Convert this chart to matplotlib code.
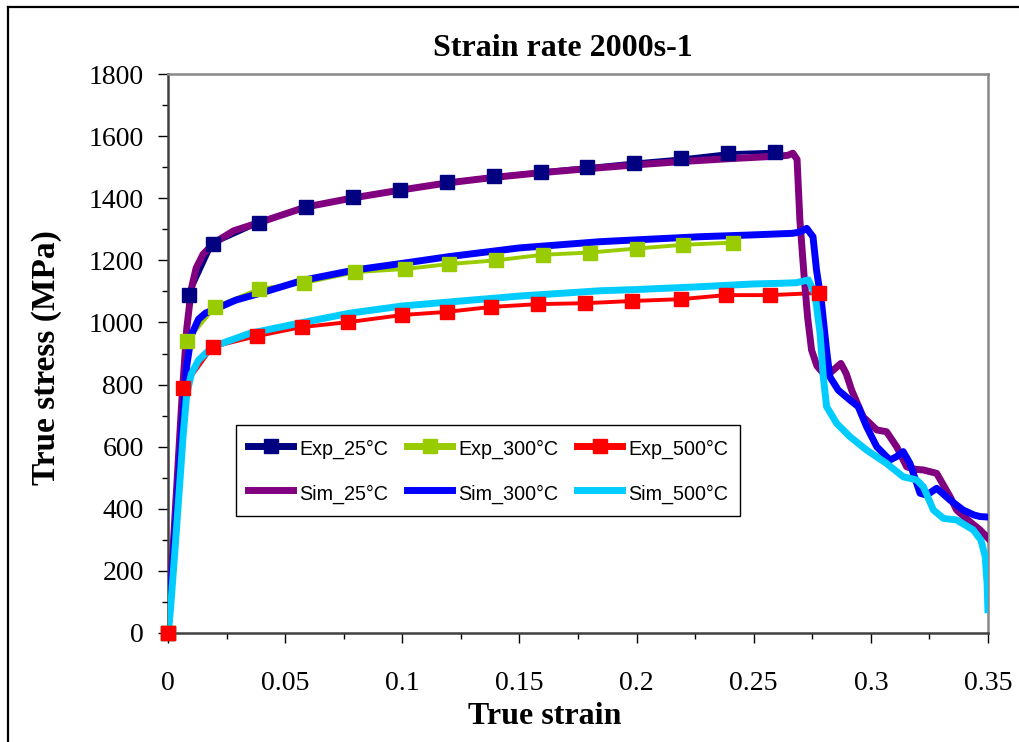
import matplotlib
matplotlib.use("Agg")
import matplotlib.pyplot as plt
from matplotlib.lines import Line2D
import numpy as np

# ---------------- data ----------------
exp25_x = [0, 0.009, 0.019, 0.039, 0.059, 0.079, 0.099, 0.119, 0.139, 0.159, 0.179, 0.199, 0.219, 0.239, 0.259]
exp25_y = [0, 1088, 1252, 1320, 1373, 1403, 1428, 1452, 1470, 1486, 1500, 1515, 1528, 1545, 1550]

exp300_x = [0, 0.008, 0.020, 0.039, 0.058, 0.080, 0.101, 0.120, 0.140, 0.160, 0.180, 0.200, 0.220, 0.241]
exp300_y = [0, 940, 1050, 1108, 1127, 1162, 1172, 1188, 1200, 1218, 1225, 1238, 1250, 1257]

exp500_x = [0, 0.0064, 0.019, 0.038, 0.057, 0.077, 0.100, 0.119, 0.138, 0.158, 0.178, 0.198, 0.219, 0.238, 0.257, 0.278]
exp500_y = [0, 789, 921, 956, 985, 1001, 1024, 1034, 1050, 1059, 1062, 1069, 1075, 1088, 1088, 1095]

sim25_x = [0, 0.003, 0.006, 0.008, 0.010, 0.012, 0.015, 0.020, 0.028, 0.039, 0.059, 0.079, 0.099, 0.119,
           0.139, 0.159, 0.179, 0.199, 0.219, 0.239, 0.259, 0.2645, 0.2667, 0.2685, 0.2697, 0.2715, 0.2730,
           0.2747, 0.2770, 0.2797, 0.2830, 0.2872, 0.2895, 0.2918, 0.2967, 0.3025, 0.3067, 0.3110, 0.3153,
           0.3190, 0.3224, 0.3281, 0.3338, 0.3366, 0.3420, 0.3466, 0.3520]
sim25_y = [0, 380, 760, 980, 1110, 1175, 1220, 1258, 1295, 1322, 1372, 1401, 1426, 1449,
           1467, 1482, 1495, 1507, 1518, 1527, 1535, 1538, 1545, 1525, 1330, 1150, 1017,
           911, 860, 836, 840, 868, 835, 782, 696, 654, 648, 600, 535,
           527, 525, 514, 439, 396, 360, 332, 290]

sim300_x = [0, 0.002, 0.004, 0.006, 0.008, 0.010, 0.013, 0.016, 0.021, 0.029, 0.0393, 0.0577, 0.0798, 0.1016, 0.120,
            0.150, 0.1844, 0.200, 0.227, 0.250, 0.2667, 0.2700, 0.2726, 0.2753, 0.2768, 0.2790, 0.2811,
            0.2825, 0.2861, 0.2911, 0.2946, 0.2982, 0.3025, 0.3081, 0.3110, 0.3138, 0.3167, 0.3210,
            0.3238, 0.3281, 0.3338, 0.3394, 0.3440, 0.3466, 0.3530]
sim300_y = [0, 210, 430, 660, 860, 960, 1010, 1030, 1046, 1072, 1094, 1136, 1169, 1192, 1212,
            1240, 1260, 1266, 1276, 1282, 1287, 1292, 1303, 1276, 1169, 1060, 911,
            825, 782, 750, 729, 664, 600, 557, 568, 584, 546, 450,
            444, 466, 428, 396, 380, 375, 372]

sim500_x = [0, 0.001, 0.003, 0.005, 0.0065, 0.008, 0.010, 0.013, 0.019, 0.035, 0.0563, 0.0777, 0.100, 0.150,
            0.1844, 0.200, 0.227, 0.250, 0.2612, 0.2683, 0.2733, 0.2761, 0.2783, 0.2797, 0.2811, 0.2854,
            0.2911, 0.2982, 0.3067, 0.3138, 0.3195, 0.3224, 0.3267, 0.3310, 0.3366, 0.3437, 0.3470,
            0.3488, 0.3496, 0.3500]
sim500_y = [0, 70, 270, 480, 640, 770, 835, 878, 922, 965, 998, 1030, 1053, 1085,
            1102, 1106, 1115, 1124, 1126, 1128, 1137, 1094, 966, 825, 729, 675,
            632, 589, 546, 503, 493, 471, 396, 369, 364, 332, 299,
            246, 161, 64]

x_ticks = [0, 0.05, 0.1, 0.15, 0.2, 0.25, 0.3, 0.35]
x_tick_labels = ["0", "0.05", "0.1", "0.15", "0.2", "0.25", "0.3", "0.35"]
y_ticks = [0, 200, 400, 600, 800, 1000, 1200, 1400, 1600, 1800]

title = "Strain rate 2000s-1"
xlabel = "True strain"
ylabel = "True stress (MPa)"

exp_series = [("Exp_25°C", exp25_x, exp25_y, "#000080"),
              ("Exp_300°C", exp300_x, exp300_y, "#99CC00"),
              ("Exp_500°C", exp500_x, exp500_y, "#FF0000")]
sim_series = [("Sim_25°C", sim25_x, sim25_y, "#800080"),
              ("Sim_300°C", sim300_x, sim300_y, "#0000FF"),
              ("Sim_500°C", sim500_x, sim500_y, "#00CCFF")]

# ---------------- figure ----------------
W, H = 1020, 742
fig = plt.figure(figsize=(W / 100, H / 100), dpi=100)
ax = fig.add_axes([168 / W, 1 - 633 / H, (988 - 168) / W, (633 - 74) / H])

serif = "Liberation Serif"
sans = "Liberation Sans"

EXP_LW = 2.8
SIM_LW = 5.0
MS = 9.5

# experiment lines (below sims)
for name, xs, ys, c in exp_series:
    ax.plot(xs, ys, color=c, lw=EXP_LW, zorder=2, solid_joinstyle="round")
# simulation lines
for name, xs, ys, c in sim_series:
    ax.plot(xs, ys, color=c, lw=SIM_LW, zorder=3, solid_joinstyle="round",
            solid_capstyle="butt")
# experiment markers on top
for name, xs, ys, c in exp_series:
    ax.plot(xs, ys, linestyle="none", marker="s", ms=MS, mfc=c, mec=c, zorder=4, clip_on=False)

ax.set_xlim(0, 0.35)
ax.set_ylim(0, 1800)
ax.set_xticks(x_ticks)
ax.set_xticklabels(x_tick_labels)
ax.set_yticks(y_ticks)
ax.set_xticks(np.arange(0, 0.351, 0.025), minor=True)
ax.set_yticks(np.arange(0, 1801, 100), minor=True)

for sp in ax.spines.values():
    sp.set_color("#888888")
    sp.set_linewidth(1.8)
ax.spines["left"].set_color("#404040")
ax.spines["bottom"].set_color("#404040")

ax.tick_params(axis="both", which="major", direction="out", length=7.5, width=1.0,
               color="black", labelsize=20)
ax.tick_params(axis="both", which="minor", direction="out", length=4.5, width=1.0, color="black")
ax.tick_params(axis="x", which="major", pad=20)
ax.tick_params(axis="y", which="major", pad=10)
for lab in ax.get_xticklabels() + ax.get_yticklabels():
    lab.set_fontfamily(serif)

fig.text(563 / W, 1 - 48 / H, title, fontfamily=serif, fontweight="bold", fontsize=23,
         ha="center", va="center")
fig.text(545 / W, 1 - 717 / H, xlabel, fontfamily=serif, fontweight="bold", fontsize=23,
         ha="center", va="center")
fig.text(47 / W, 1 - 358 / H, ylabel, fontfamily=serif, fontweight="bold", fontsize=24,
         ha="center", va="center", rotation=90)

# legend
handles = []
labels = []
for (ename, _, _, ec), (sname, _, _, sc) in zip(exp_series, sim_series):
    handles.append(Line2D([], [], color=ec, lw=5, marker="s", ms=MS, mfc=ec, mec=ec))
    labels.append(ename)
    handles.append(Line2D([], [], color=sc, lw=5))
    labels.append(sname)
leg = fig.legend(handles, labels, ncol=3, loc="upper left",
                 bbox_to_anchor=(236 / W, 1 - 425 / H),
                 prop={"family": sans, "size": 14.2},
                 frameon=True, fancybox=False, shadow=False, framealpha=1,
                 handlelength=2.3, handleheight=1.35, handletextpad=0.3, columnspacing=0.95,
                 labelspacing=1.15, borderpad=0.6, borderaxespad=0)
leg.get_frame().set_edgecolor("black")
leg.get_frame().set_linewidth(1.0)
leg.set_zorder(10)

# outer chart border
fig.add_artist(Line2D([8 / W, 1.0], [1 - 7 / H, 1 - 7 / H], color="black", lw=1.6,
                      transform=fig.transFigure))
fig.add_artist(Line2D([8 / W, 8 / W], [1 - 7 / H, 0.0], color="black", lw=1.6,
                      transform=fig.transFigure))

fig.savefig("out.png", dpi=100)
